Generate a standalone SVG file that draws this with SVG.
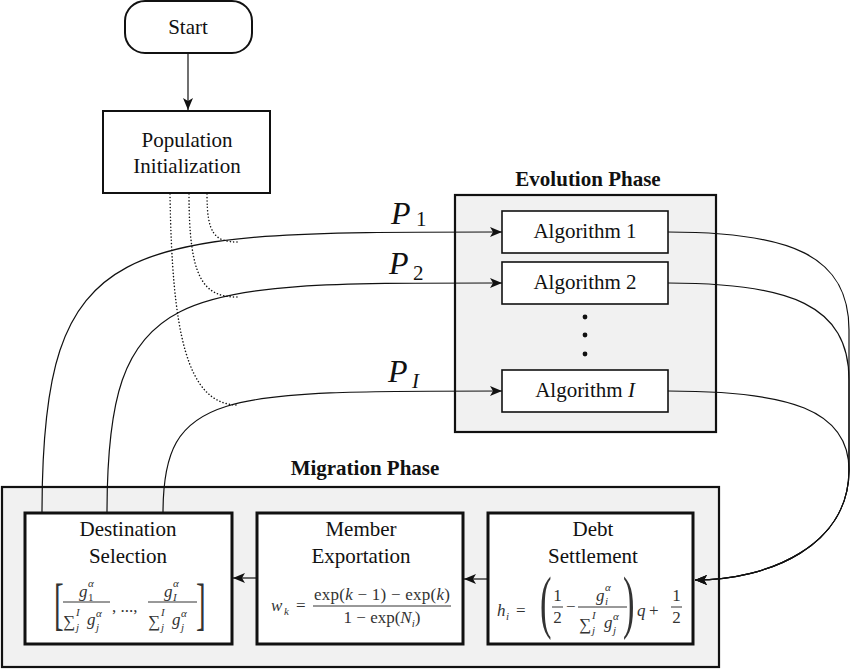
<svg xmlns="http://www.w3.org/2000/svg" width="850" height="670" viewBox="0 0 850 670">
<style>
.t{font-size:21px;fill:#111;text-anchor:middle}
.b{font-size:21px;font-weight:bold;fill:#111;text-anchor:middle}
.m{font-size:17px;fill:#333}
.s{font-size:11px}
.i{font-style:italic}
.p{font-style:italic;fill:#111}
.n{font-style:normal}
.box{fill:#fff;stroke:#111;stroke-width:2}
.thick{fill:#fff;stroke:#111;stroke-width:3}
.alg{fill:#fff;stroke:#111;stroke-width:1.6}
.phase{fill:#f1f1f1;stroke:#111;stroke-width:2.2}
.c{fill:none;stroke:#111;stroke-width:1.2}
.d{fill:none;stroke:#111;stroke-width:1.5;stroke-dasharray:0.1 3.2;stroke-linecap:round}
.fl{stroke:#333;stroke-width:1}
</style>
<defs>
<marker id="ah" viewBox="0 0 12 10" refX="12" refY="5" markerWidth="12" markerHeight="10" markerUnits="userSpaceOnUse" orient="auto">
<path d="M0,0 L12,5 L0,10 L3,5 Z" fill="#111"/>
</marker>
</defs>

<g id="migration-phase">
<rect class="phase" x="2" y="487" width="717" height="180"/>
<text class="b" font-family="Liberation Serif" x="365" y="475">Migration Phase</text>
</g>

<g id="evolution-phase">
<rect class="phase" x="455" y="195" width="261" height="237"/>
<text class="b" font-family="Liberation Serif" x="588" y="186">Evolution Phase</text>
<circle cx="585" cy="317" r="2.4" fill="#111"/>
<circle cx="585" cy="335" r="2.4" fill="#111"/>
<circle cx="585" cy="354" r="2.4" fill="#111"/>
</g>

<g id="start">
<rect class="box" x="125" y="1" width="127" height="52" rx="20"/>
<text class="t" font-family="Liberation Serif" x="188" y="34">Start</text>
</g>

<g id="population-initialization">
<rect class="box" x="103" y="111" width="167" height="82"/>
<text class="t" font-family="Liberation Serif" x="187" y="147">Population</text>
<text class="t" font-family="Liberation Serif" x="187" y="173">Initialization</text>
</g>

<g id="algorithm-1">
<rect class="alg" x="502" y="211" width="166" height="42"/>
<text class="t" font-family="Liberation Serif" x="585" y="238">Algorithm 1</text>
</g>
<g id="algorithm-2">
<rect class="alg" x="502" y="262" width="166" height="42"/>
<text class="t" font-family="Liberation Serif" x="585" y="289">Algorithm 2</text>
</g>
<g id="algorithm-I">
<rect class="alg" x="502" y="370" width="166" height="42"/>
<text class="t" font-family="Liberation Serif" x="585" y="397">Algorithm <tspan class="i">I</tspan></text>
</g>

<g id="destination-selection">
<rect class="thick" x="25" y="513" width="207" height="131"/>
<text class="t" font-family="Liberation Serif" x="128" y="536">Destination</text>
<text class="t" font-family="Liberation Serif" x="128" y="563">Selection</text>
<text class="m" font-family="Liberation Serif" transform="translate(54,623) scale(0.5,1)" style="font-size:58px">[</text>
<text class="m" font-family="Liberation Serif" transform="translate(196,623) scale(0.5,1)" style="font-size:58px">]</text>
<line class="fl" x1="63" y1="602" x2="110" y2="602"/>
<text class="m i" font-family="Liberation Serif" x="79" y="597">g</text>
<text class="m s i" font-family="Liberation Serif" x="88" y="587">α</text>
<text class="m s" font-family="Liberation Serif" x="88" y="601">1</text>
<text class="m" font-family="Liberation Serif" x="63" y="627">∑</text>
<text class="m s i" font-family="Liberation Serif" x="76" y="616">I</text>
<text class="m s i" font-family="Liberation Serif" x="76" y="631">j</text>
<text class="m i" font-family="Liberation Serif" x="87" y="625">g</text>
<text class="m s i" font-family="Liberation Serif" x="96" y="617">α</text>
<text class="m s i" font-family="Liberation Serif" x="96" y="631">j</text>
<text class="m" font-family="Liberation Serif" x="112" y="612">, ..., </text>
<line class="fl" x1="148" y1="602" x2="197" y2="602"/>
<text class="m i" font-family="Liberation Serif" x="164" y="597">g</text>
<text class="m s i" font-family="Liberation Serif" x="173" y="587">α</text>
<text class="m s i" font-family="Liberation Serif" x="173" y="601">I</text>
<text class="m" font-family="Liberation Serif" x="148" y="627">∑</text>
<text class="m s i" font-family="Liberation Serif" x="161" y="616">I</text>
<text class="m s i" font-family="Liberation Serif" x="161" y="631">j</text>
<text class="m i" font-family="Liberation Serif" x="172" y="625">g</text>
<text class="m s i" font-family="Liberation Serif" x="181" y="617">α</text>
<text class="m s i" font-family="Liberation Serif" x="181" y="631">j</text>
</g>

<g id="member-exportation">
<rect class="thick" x="257" y="513" width="206" height="131"/>
<text class="t" font-family="Liberation Serif" x="361" y="536">Member</text>
<text class="t" font-family="Liberation Serif" x="361" y="563">Exportation</text>
<text class="m i" font-family="Liberation Serif" x="271" y="611">w</text>
<text class="m s i" font-family="Liberation Serif" x="284" y="615">k</text>
<text class="m" font-family="Liberation Serif" x="296" y="611">=</text>
<line class="fl" x1="313" y1="606" x2="451" y2="606"/>
<text class="m" font-family="Liberation Serif" x="382" y="600" text-anchor="middle" textLength="136" lengthAdjust="spacing">exp(<tspan class="i">k</tspan> − 1) − exp(<tspan class="i">k</tspan>)</text>
<text class="m" font-family="Liberation Serif" x="382" y="623" text-anchor="middle">1 − exp(<tspan class="i">N</tspan><tspan class="s i" dy="4">i</tspan><tspan dy="-4">)</tspan></text>
</g>

<g id="debt-settlement">
<rect class="thick" x="488" y="513" width="205" height="131"/>
<text class="t" font-family="Liberation Serif" x="593" y="536">Debt</text>
<text class="t" font-family="Liberation Serif" x="593" y="563">Settlement</text>
<text class="m i" font-family="Liberation Serif" x="497" y="616">h</text>
<text class="m s i" font-family="Liberation Serif" x="506" y="620">i</text>
<text class="m" font-family="Liberation Serif" x="516" y="616">=</text>
<text class="m" font-family="Liberation Serif" transform="translate(540,625) scale(0.5,1)" style="font-size:69px">(</text>
<text class="m" font-family="Liberation Serif" transform="translate(623,625) scale(0.5,1)" style="font-size:69px">)</text>
<line class="fl" x1="552" y1="607" x2="563" y2="607"/>
<text class="m" font-family="Liberation Serif" x="557.5" y="601" text-anchor="middle">1</text>
<text class="m" font-family="Liberation Serif" x="557.5" y="623" text-anchor="middle">2</text>
<text class="m" font-family="Liberation Serif" x="566" y="612">−</text>
<line class="fl" x1="578" y1="607" x2="627" y2="607"/>
<text class="m i" font-family="Liberation Serif" x="596" y="601">g</text>
<text class="m s i" font-family="Liberation Serif" x="605" y="591">α</text>
<text class="m s i" font-family="Liberation Serif" x="605" y="605">i</text>
<text class="m" font-family="Liberation Serif" x="579" y="630">∑</text>
<text class="m s i" font-family="Liberation Serif" x="592" y="619">I</text>
<text class="m s i" font-family="Liberation Serif" x="592" y="634">j</text>
<text class="m i" font-family="Liberation Serif" x="604" y="628">g</text>
<text class="m s i" font-family="Liberation Serif" x="613" y="620">α</text>
<text class="m s i" font-family="Liberation Serif" x="613" y="634">j</text>
<text class="m i" font-family="Liberation Serif" x="637" y="616">q</text>
<text class="m" font-family="Liberation Serif" x="649" y="616">+</text>
<line class="fl" x1="671" y1="607" x2="682" y2="607"/>
<text class="m" font-family="Liberation Serif" x="676.5" y="601" text-anchor="middle">1</text>
<text class="m" font-family="Liberation Serif" x="676.5" y="623" text-anchor="middle">2</text>
</g>

<g id="connectors">
<line class="c" x1="188" y1="53" x2="188" y2="110" marker-end="url(#ah)"/>
<path class="c" d="M42,513 C42,230 120,232 502,232" marker-end="url(#ah)"/>
<path class="c" d="M107,513 C107,281 174,283 502,283" marker-end="url(#ah)"/>
<path class="c" d="M163,513 C163,391 220,391 502,391" marker-end="url(#ah)"/>
<path class="d" d="M207,194 C207,233 214,242 238,242"/>
<path class="d" d="M189,194 C189,278 203,297 237,297"/>
<path class="d" d="M170,194 C172,330 186,405 238,405"/>
<path class="c" d="M668,232 C790,232 849,255 849,330 L849,470 C849,545 770,580 695,580" marker-end="url(#ah)"/>
<path class="c" d="M668,283 C790,283 849,305 849,380 L849,470 C849,545 770,580 695,580" marker-end="url(#ah)"/>
<path class="c" d="M668,391 C790,391 849,410 849,470 C849,545 770,580 695,580" marker-end="url(#ah)"/>
<line class="c" x1="488" y1="579" x2="464" y2="579" marker-end="url(#ah)"/>
<line class="c" x1="257" y1="578" x2="233" y2="578" marker-end="url(#ah)"/>
<text class="p" font-family="Liberation Serif" x="391" y="224" font-size="32">P</text>
<text class="p n" font-family="Liberation Serif" x="416" y="226" font-size="21">1</text>
<text class="p" font-family="Liberation Serif" x="389" y="274" font-size="32">P</text>
<text class="p n" font-family="Liberation Serif" x="413" y="280" font-size="21">2</text>
<text class="p" font-family="Liberation Serif" x="388" y="382" font-size="32">P</text>
<text class="p" font-family="Liberation Serif" x="412" y="388" font-size="21">I</text>
</g>
</svg>
